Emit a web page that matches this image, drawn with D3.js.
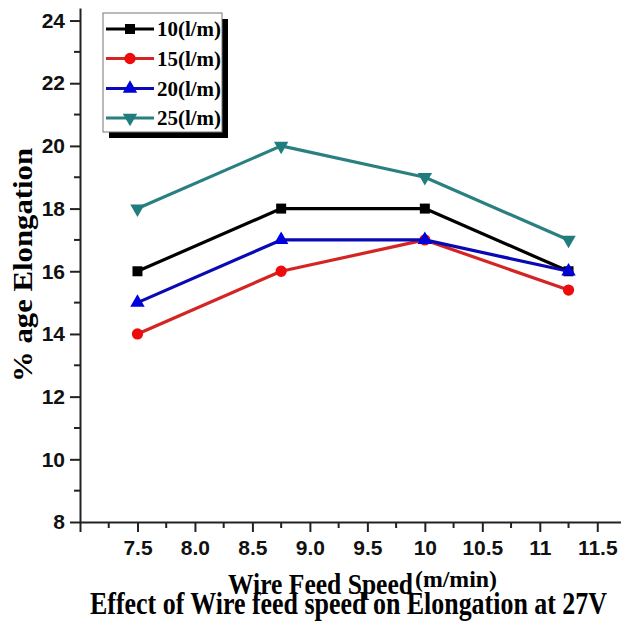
<!DOCTYPE html>
<html>
<head>
<meta charset="utf-8">
<script src="https://cdn.jsdelivr.net/npm/d3@7"></script>
<style>
  html, body { margin: 0; padding: 0; background: #fff; }
  svg { display: block; }
</style>
</head>
<body>
<svg id="chart" width="621" height="624"></svg>
<script>
// ---- data ----
const wireFeed = [7.5, 8.75, 10, 11.25];
const seriesNames = ["10(l/m)", "15(l/m)", "20(l/m)", "25(l/m)"];
const elong10 = [16, 18, 18, 16];
const elong15 = [14, 16, 17, 15.4];
const elong20 = [15, 17, 17, 16];
const elong25 = [18, 20, 19, 17];
const xTickValues = [7.0, 7.5, 8.0, 8.5, 9.0, 9.5, 10, 10.5, 11, 11.5];
const xTickLabels = ["", "7.5", "8.0", "8.5", "9.0", "9.5", "10", "10.5", "11", "11.5"];
const yTickValues = [8, 10, 12, 14, 16, 18, 20, 22, 24];
const xTitle = "Wire Feed Speed";
const xUnit = "(m/min)";
const yTitle = "% age Elongation";
const caption = "Effect of Wire feed speed on Elongation at 27V";

// ---- styles ----
const styles = [
  { color: "#000000", mcolor: "#000000", symbol: d3.symbolSquare, size: 100, rot: 0 },
  { color: "#d42424", mcolor: "#ee0b0b", symbol: d3.symbolCircle, size: 100, rot: 0 },
  { color: "#0a0ab4", mcolor: "#0000dd", symbol: d3.symbolTriangle, size: 90, rot: 0 },
  { color: "#2a8080", mcolor: "#217d7d", symbol: d3.symbolTriangle, size: 90, rot: 180 }
];
const seriesValues = [elong10, elong15, elong20, elong25];

const svg = d3.select("#chart");
const x = d3.scaleLinear().domain([7, 11.75]).range([80, 626]);
const y = d3.scaleLinear().domain([8, 24.4]).range([522, 8]);

const tickFont = "'Liberation Sans', Arial, sans-serif";
const serif = "'Liberation Serif', 'Times New Roman', serif";

// ---- axes ----
const xMinor = d3.range(7.25, 11.8, 0.5);
svg.append("g").selectAll("line").data(xMinor).join("line")
  .attr("x1", d => x(d)).attr("x2", d => x(d))
  .attr("y1", y(8)).attr("y2", y(8) + 6)
  .attr("stroke", "#222").attr("stroke-width", 2);

const xAxis = d3.axisBottom(x).tickValues(xTickValues)
  .tickFormat((d, i) => xTickLabels[i]).tickSize(10).tickSizeOuter(0).tickPadding(8);
const gx = svg.append("g").attr("transform", `translate(0,${y(8)})`).call(xAxis);
gx.select(".domain").attr("stroke", "#222").attr("stroke-width", 2);
gx.selectAll(".tick line").attr("stroke", "#222").attr("stroke-width", 2);
gx.selectAll(".tick text")
  .attr("font-family", tickFont).attr("font-weight", "bold").attr("font-size", 21)
  .attr("fill", "#111");

const yMinor = d3.range(9, 24, 2);
svg.append("g").selectAll("line").data(yMinor).join("line")
  .attr("x1", x(7)).attr("x2", x(7) - 6)
  .attr("y1", d => y(d)).attr("y2", d => y(d))
  .attr("stroke", "#222").attr("stroke-width", 2);

const yAxis = d3.axisLeft(y).tickValues(yTickValues).tickFormat(d3.format("d"))
  .tickSize(10).tickSizeOuter(0).tickPadding(5);
const gy = svg.append("g").attr("transform", `translate(${x(7)},0)`).call(yAxis);
gy.select(".domain").attr("stroke", "#222").attr("stroke-width", 2);
gy.selectAll(".tick line").attr("stroke", "#222").attr("stroke-width", 2);
gy.selectAll(".tick text")
  .attr("font-family", tickFont).attr("font-weight", "bold").attr("font-size", 21)
  .attr("fill", "#111");

// ---- series ----
const line = d3.line().x((d, i) => x(wireFeed[i])).y(d => y(d));
seriesValues.forEach((vals, si) => {
  const st = styles[si];
  const g = svg.append("g");
  g.append("path").datum(vals).attr("d", line)
    .attr("fill", "none").attr("stroke", st.color).attr("stroke-width", 3.2)
    .attr("stroke-linejoin", "round");
  g.selectAll("path.m").data(vals).join("path").attr("class", "m")
    .attr("d", d3.symbol().type(st.symbol).size(st.size))
    .attr("transform", (d, i) => `translate(${x(wireFeed[i])},${y(d)}) rotate(${st.rot})`)
    .attr("fill", st.mcolor);
});

// ---- legend ----
const lg = svg.append("g");
lg.append("rect").attr("x", 109).attr("y", 19).attr("width", 119).attr("height", 119).attr("fill", "#000");
lg.append("rect").attr("x", 103).attr("y", 13).attr("width", 119).attr("height", 119)
  .attr("fill", "#fff").attr("stroke", "#777").attr("stroke-width", 1);
const rowY = [29, 58.5, 88.5, 118];
seriesNames.forEach((name, si) => {
  const st = styles[si];
  const yy = rowY[si];
  lg.append("line").attr("x1", 106).attr("x2", 154).attr("y1", yy).attr("y2", yy)
    .attr("stroke", st.color).attr("stroke-width", 3.2);
  lg.append("path").attr("d", d3.symbol().type(st.symbol).size(st.size))
    .attr("transform", `translate(130,${yy}) rotate(${st.rot})`).attr("fill", st.mcolor);
  lg.append("text").attr("x", 157).attr("y", yy + 7)
    .attr("font-family", serif).attr("font-weight", "bold").attr("font-size", 21)
    .attr("textLength", 64).attr("lengthAdjust", "spacingAndGlyphs")
    .attr("fill", "#000").text(name);
});

// ---- titles ----
svg.append("text").attr("x", 228).attr("y", 594)
  .attr("font-family", serif).attr("font-weight", "bold").attr("font-size", 30)
  .attr("textLength", 185).attr("lengthAdjust", "spacingAndGlyphs")
  .attr("fill", "#000").text(xTitle);
svg.append("text").attr("x", 415).attr("y", 587)
  .attr("font-family", serif).attr("font-weight", "bold").attr("font-size", 23)
  .attr("textLength", 82).attr("lengthAdjust", "spacingAndGlyphs")
  .attr("fill", "#000").text(xUnit);
svg.append("text").attr("x", 90).attr("y", 614)
  .attr("font-family", serif).attr("font-weight", "bold").attr("font-size", 32)
  .attr("textLength", 517).attr("lengthAdjust", "spacingAndGlyphs")
  .attr("fill", "#000").text(caption);
svg.append("text")
  .attr("transform", "translate(32,382) rotate(-90)")
  .attr("font-family", serif).attr("font-weight", "bold").attr("font-size", 28)
  .attr("textLength", 234).attr("lengthAdjust", "spacingAndGlyphs")
  .attr("fill", "#000").text(yTitle);
</script>
</body>
</html>
